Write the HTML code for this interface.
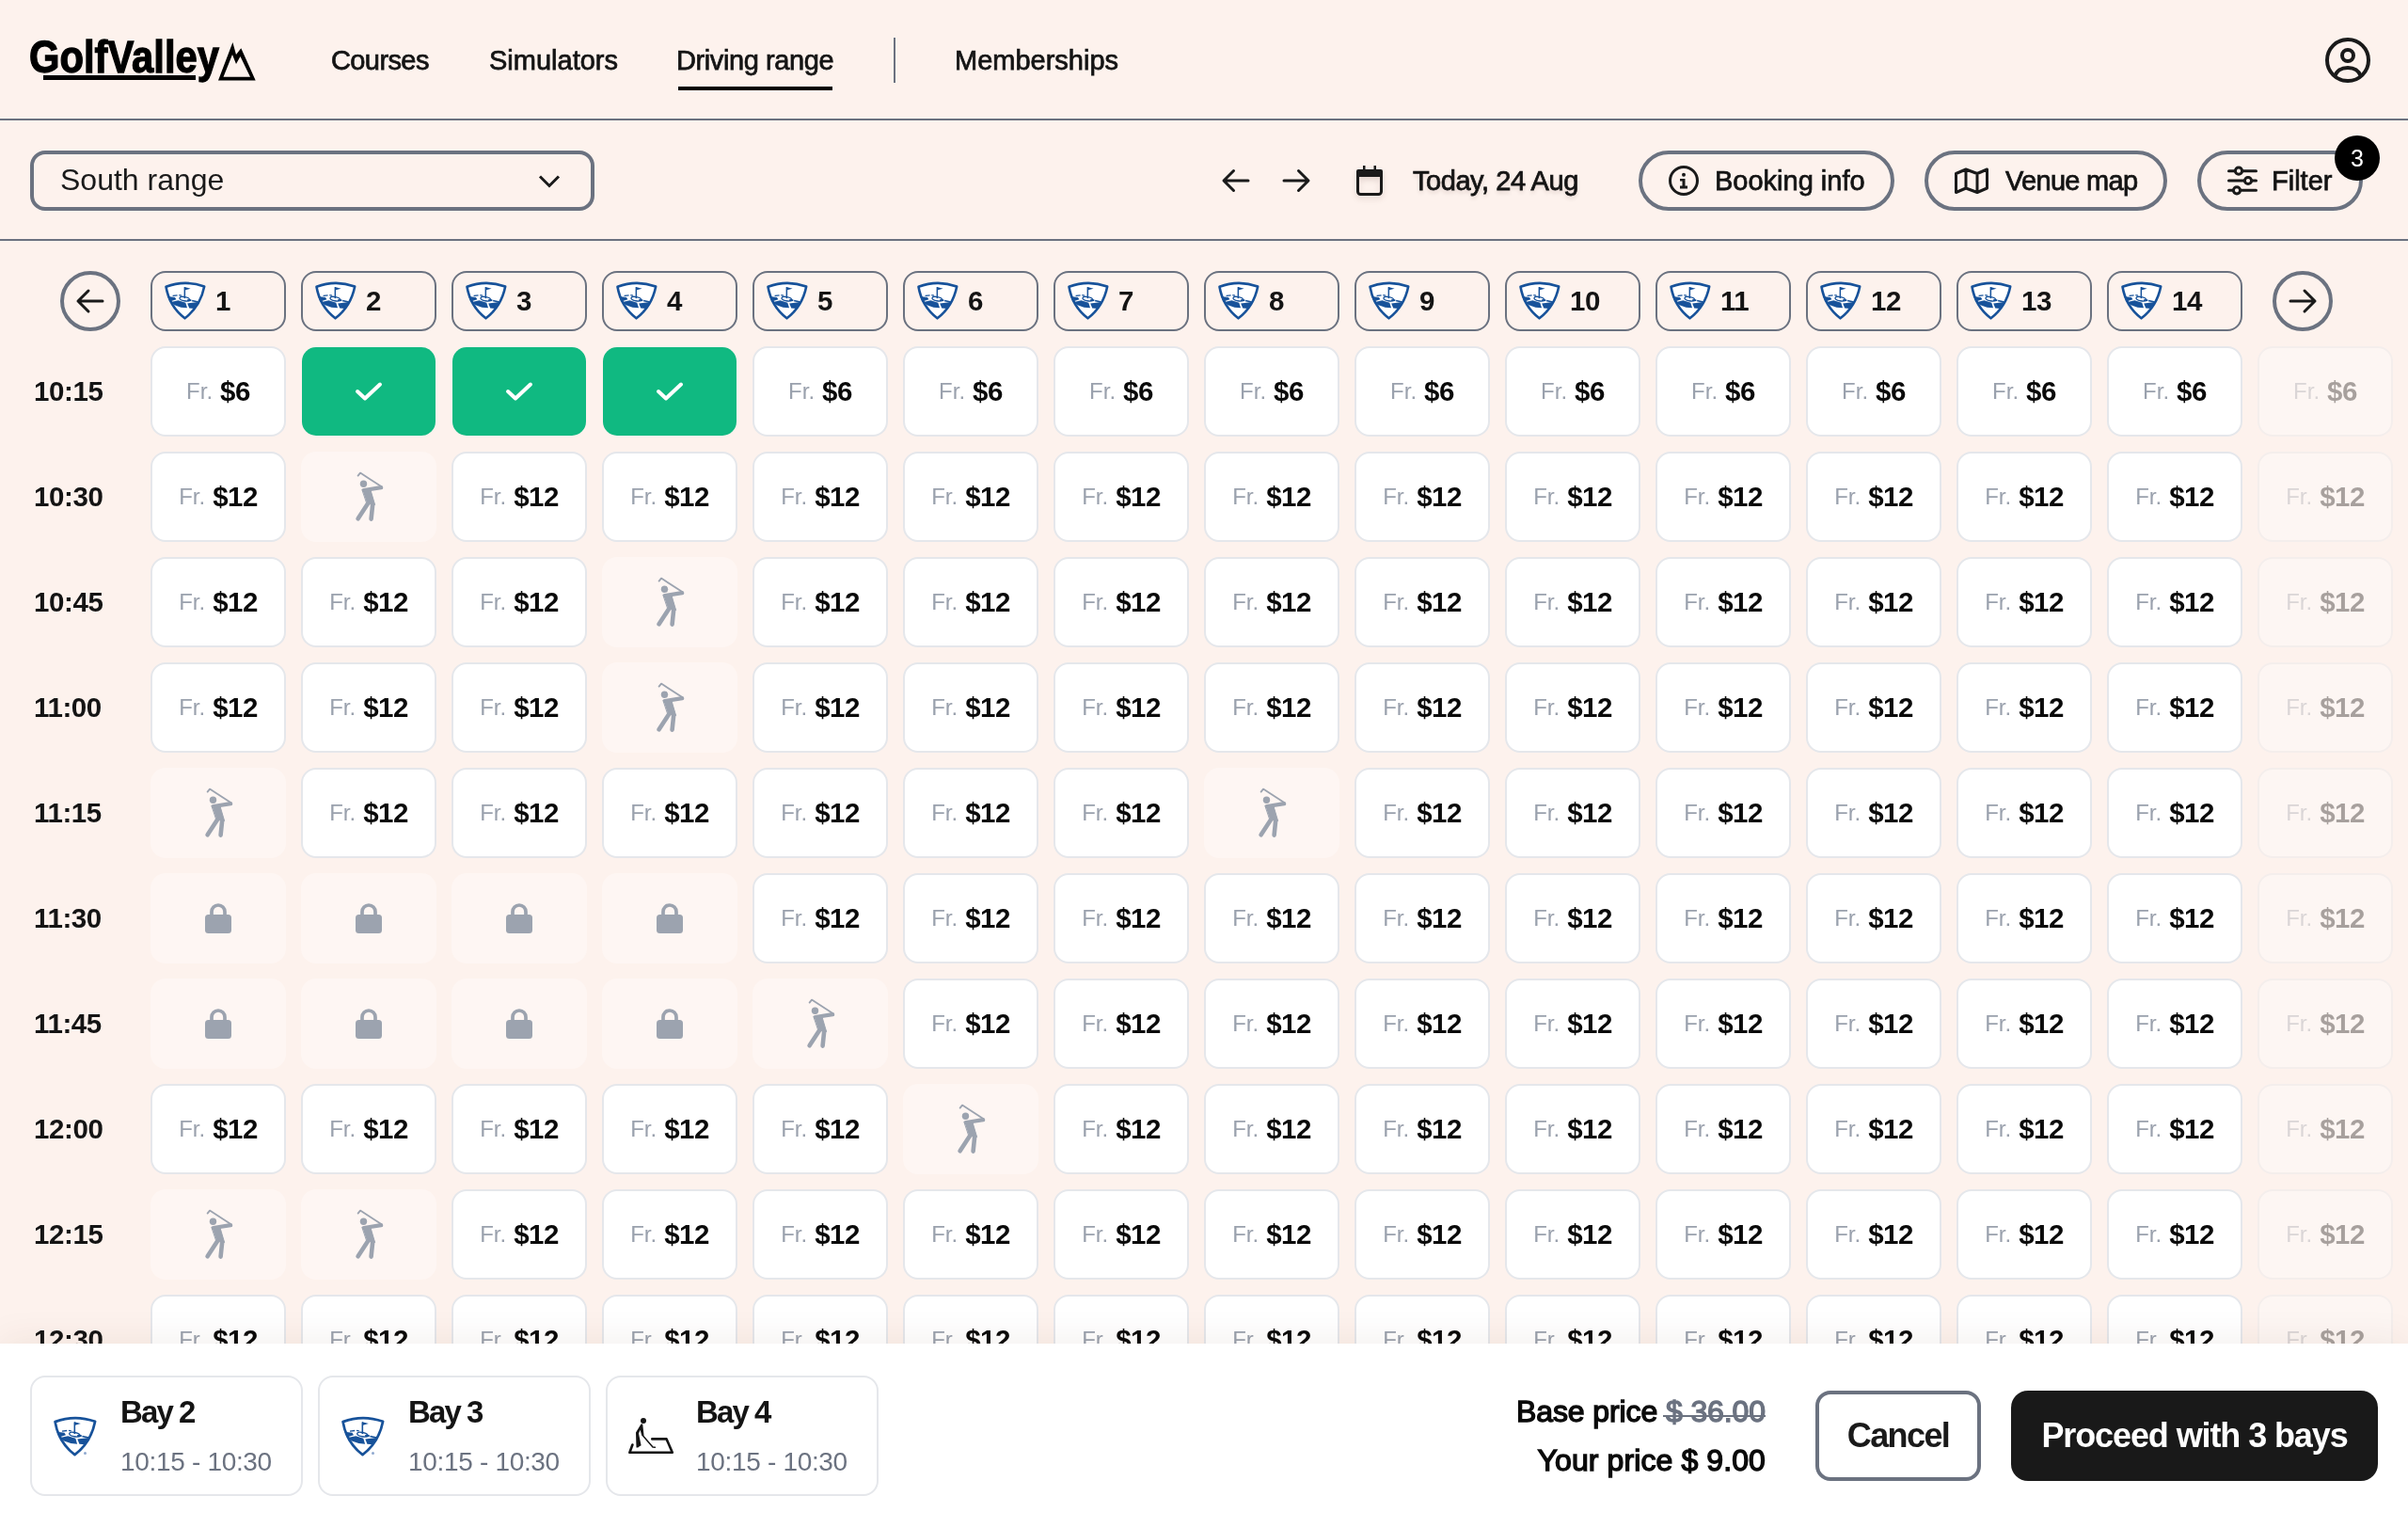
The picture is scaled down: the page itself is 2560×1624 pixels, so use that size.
<!DOCTYPE html>
<html><head><meta charset="utf-8"><title>GolfValley - Driving range</title>
<style>
*{box-sizing:border-box;margin:0;padding:0}
html{will-change:transform}
html,body{width:2560px;height:1624px;overflow:hidden;background:#fdf2ed;font-family:"Liberation Sans", sans-serif;color:#1a1a1a}
.abs{position:absolute}
.ic{position:absolute;overflow:visible}
.t{position:absolute;white-space:nowrap;line-height:1}
.nav{font-size:29px;font-weight:400;color:#141414;-webkit-text-stroke:0.75px #141414}
.hb{position:absolute;top:288px;width:144px;height:64px;border:2px solid #6b7280;border-radius:16px}
.hb .n{position:absolute;left:67px;top:0;height:60px;display:flex;align-items:center;font-size:29.5px;font-weight:700;color:#141414;letter-spacing:-0.5px}
.c{position:absolute;width:144px;height:96px;border-radius:16px;display:flex;align-items:center;justify-content:center;white-space:nowrap}
.c.p{background:#fff;border:2px solid #e5e7eb}
.c.s{background:#10b981}
.c.d{background:#fef6f3}
.c.f{opacity:.35}
.fr{font-size:24px;color:#9aa1ad;margin-right:8px}
.pr{font-size:29.5px;font-weight:700;color:#0a0a0a;letter-spacing:-0.5px}
.tm{position:absolute;left:36px;width:100px;height:96px;display:flex;align-items:center;font-size:29.5px;font-weight:700;color:#141414;letter-spacing:-0.4px}
.pill{position:absolute;top:160px;height:64px;border:4px solid #6b7280;border-radius:32px}
.circ{position:absolute;top:288px;width:64px;height:64px;border:4px solid #6b7280;border-radius:50%}
.card{position:absolute;top:1462px;width:290px;height:128px;border:2px solid #e5e7eb;border-radius:16px;background:#fff}
.card .b{position:absolute;left:94px;top:20px;letter-spacing:-1.9px;font-size:33px;font-weight:700;color:#141414;line-height:1}
.strike{position:relative}
.strike::after{content:"";position:absolute;left:-3px;right:0;top:22px;height:2px;background:#6b7280}
.card .r{position:absolute;left:94px;top:76px;letter-spacing:-0.32px;font-size:28px;color:#6b7280;line-height:1}
</style></head><body>

<svg class="ic" style="left:0;top:0;width:300px;height:110px" viewBox="0 0 300 110">
<text x="31" y="77" font-family="Liberation Sans, sans-serif" font-weight="700" font-size="48" textLength="202" lengthAdjust="spacingAndGlyphs" fill="#000" stroke="#000" stroke-width="1.3">GolfValley</text>
<rect x="46" y="80" width="162" height="5" fill="#000"/>
<path fill-rule="evenodd" fill="#000" d="M232 85.5 L247.4 45 L251 58 L256.3 51.3 L271.7 85.5 Z M237.5 81.8 L266 81.8 L255.5 60 L251 68 L247 58 Z"/>
</svg>
<div class="t nav" style="left:352px;top:50px;letter-spacing:-0.6px">Courses</div>
<div class="t nav" style="left:520px;top:50px">Simulators</div>
<div class="t nav" style="left:719px;top:50px;letter-spacing:-0.4px">Driving range</div>
<div class="abs" style="left:721px;top:92px;width:164px;height:4px;background:#000"></div>
<div class="abs" style="left:950px;top:40px;width:2px;height:48px;background:#6b7280"></div>
<div class="t nav" style="left:1015px;top:50px">Memberships</div>
<svg class="ic" style="left:2468px;top:36px;width:56px;height:56px" viewBox="2468 36 56 56">
<g fill="none" stroke="#1a1a1a" stroke-width="4">
<circle cx="2496" cy="64" r="22"/>
<circle cx="2496" cy="59" r="6"/>
<path d="M2482 81 C2484.5 75 2488 72 2496 72 C2504 72 2507.5 75 2510 81"/>
</g></svg>
<div class="abs" style="left:0;top:126px;width:2560px;height:2px;background:#6b7280"></div>
<div class="abs" style="left:32px;top:160px;width:600px;height:64px;border:4px solid #6b7280;border-radius:16px"></div>
<div class="t" style="left:64px;top:175px;font-size:32px;color:#1a1a1a">South range</div>
<svg class="ic" style="left:570px;top:182px;width:28px;height:20px" viewBox="570 182 28 20">
<path d="M574 187.5 L584 197.5 L594 187.5" fill="none" stroke="#1a1a1a" stroke-width="3"/></svg>
<svg class="ic" style="left:1296px;top:176px;width:100px;height:32px" viewBox="1296 176 100 32">
<g fill="none" stroke="#1a1a1a" stroke-width="3" stroke-linecap="round" stroke-linejoin="round">
<path d="M1327 192 L1301.5 192 M1311.5 181.5 L1301 192 L1311.5 202.5"/>
<path d="M1365 192 L1390.5 192 M1380.5 181.5 L1391 192 L1380.5 202.5"/>
</g></svg>
<svg class="ic" style="left:1440px;top:174px;width:32px;height:36px;filter:drop-shadow(0 3px 3px rgba(60,30,20,0.15))" viewBox="1440 174 32 36">
<rect x="1443.5" y="181.5" width="25" height="25" rx="3" fill="none" stroke="#1a1a1a" stroke-width="3"/>
<rect x="1442" y="180" width="28" height="8" rx="2" fill="#1a1a1a"/>
<rect x="1449" y="176" width="2.5" height="6" fill="#1a1a1a"/>
<rect x="1460.5" y="176" width="2.5" height="6" fill="#1a1a1a"/>
</svg>
<div class="t nav" style="left:1502px;top:178px;letter-spacing:-0.45px;text-shadow:0 3px 4px rgba(60,30,20,0.15)">Today, 24 Aug</div>
<div class="pill" style="left:1742px;width:272px"></div>
<svg class="ic" style="left:1772px;top:174px;width:36px;height:36px" viewBox="1772 174 36 36">
<circle cx="1790" cy="192" r="14.5" fill="none" stroke="#1a1a1a" stroke-width="3"/>
<circle cx="1790" cy="185.8" r="2" fill="#1a1a1a"/>
<path d="M1786 190 L1791.5 190 L1791.5 197.5 L1794 197.5 L1794 200.5 L1786 200.5 L1786 197.5 L1788.5 197.5 L1788.5 192.5 L1786 192.5 Z" fill="#1a1a1a"/>
</svg>
<div class="t nav" style="left:1823px;top:178px">Booking info</div>
<div class="pill" style="left:2046px;width:258px"></div>
<svg class="ic" style="left:2074px;top:174px;width:44px;height:36px" viewBox="2074 174 44 36">
<path d="M2079.5 184.5 L2090 180 L2102 184.5 L2112.5 180 L2112.5 200 L2102 204.5 L2090 200 L2079.5 204.5 Z M2090 180 L2090 200 M2102 184.5 L2102 204.5" fill="none" stroke="#1a1a1a" stroke-width="3" stroke-linejoin="round"/>
</svg>
<div class="t nav" style="left:2132px;top:178px;letter-spacing:-0.7px">Venue map</div>
<div class="pill" style="left:2336px;width:176px"></div>
<svg class="ic" style="left:2364px;top:172px;width:40px;height:40px" viewBox="2364 172 40 40">
<g fill="none" stroke="#1a1a1a" stroke-width="3" stroke-linecap="round">
<path d="M2369.5 181.7 L2376 181.7 M2384 181.7 L2398.5 181.7 M2369.5 192 L2386 192 M2394 192 L2398.5 192 M2369.5 202.3 L2374 202.3 M2382 202.3 L2398.5 202.3"/>
<circle cx="2380" cy="181.7" r="3.6"/><circle cx="2390" cy="192" r="3.6"/><circle cx="2378" cy="202.3" r="3.6"/>
</g></svg>
<div class="t nav" style="left:2415px;top:178px">Filter</div>
<div class="abs" style="left:2482px;top:144px;width:48px;height:48px;border-radius:50%;background:#000;color:#fff;font-size:25px;display:flex;align-items:center;justify-content:center;line-height:1">3</div>
<div class="abs" style="left:0;top:254px;width:2560px;height:2px;background:#6b7280"></div>
<div class="circ" style="left:64px"></div>
<svg class="ic" style="left:78px;top:304px;width:36px;height:32px" viewBox="78 304 36 32">
<path d="M109 320 L83 320 M94 309 L83 320 L94 331" fill="none" stroke="#1a1a1a" stroke-width="3" stroke-linecap="round" stroke-linejoin="round"/></svg>
<div class="circ" style="left:2416px"></div>
<svg class="ic" style="left:2430px;top:304px;width:36px;height:32px" viewBox="2430 304 36 32">
<path d="M2435 320 L2461 320 M2450 309 L2461 320 L2450 331" fill="none" stroke="#1a1a1a" stroke-width="3" stroke-linecap="round" stroke-linejoin="round"/></svg>
<div class="hb" style="left:160px"><div class="n">1</div></div>
<svg class="ic" style="left:175px;top:299px;width:44px;height:41px" viewBox="0 -0.7 44 41">
<path d="M1.5 5.1 Q21.5 -2.5 42.2 4.8 Q38 26 21.5 38.6 Q5 26 1.5 5.1 Z" fill="#fff" stroke="#17529a" stroke-width="2.6" stroke-linejoin="round"/>
<g fill="#17529a">
<rect x="20.6" y="5.4" width="1.5" height="12"/>
<path d="M21.1 5.3 L27.6 7 L21.1 8.9 Z"/>
<path d="M3.2 15.2 L11 16.3 L12.4 18.5 L8.6 19.9 L5.4 21 Z"/>
<path d="M6.8 21.3 L14.5 19.6 L22.3 22 L24 27.6 L17.5 27 L10.5 24.6 Z"/>
<path d="M24.2 22.7 L36 21.2 L31.8 28.2 L26.2 27.8 Z"/>
<path d="M29.4 19 L36 20.6 L35.2 22 L28.8 20.6 Z"/>
<ellipse cx="26.2" cy="19.4" rx="2.5" ry="1.2"/>
</g>
<g fill="none" stroke="#17529a" stroke-width="1.3">
<ellipse cx="21.3" cy="18" rx="5.4" ry="2.1" transform="rotate(12 21.3 18)"/>
<path d="M8.6 14.6 L13.6 14.1 M15.3 14 L18 14.4"/>
</g>
</svg>
<div class="hb" style="left:320px"><div class="n">2</div></div>
<svg class="ic" style="left:335px;top:299px;width:44px;height:41px" viewBox="0 -0.7 44 41">
<path d="M1.5 5.1 Q21.5 -2.5 42.2 4.8 Q38 26 21.5 38.6 Q5 26 1.5 5.1 Z" fill="#fff" stroke="#17529a" stroke-width="2.6" stroke-linejoin="round"/>
<g fill="#17529a">
<rect x="20.6" y="5.4" width="1.5" height="12"/>
<path d="M21.1 5.3 L27.6 7 L21.1 8.9 Z"/>
<path d="M3.2 15.2 L11 16.3 L12.4 18.5 L8.6 19.9 L5.4 21 Z"/>
<path d="M6.8 21.3 L14.5 19.6 L22.3 22 L24 27.6 L17.5 27 L10.5 24.6 Z"/>
<path d="M24.2 22.7 L36 21.2 L31.8 28.2 L26.2 27.8 Z"/>
<path d="M29.4 19 L36 20.6 L35.2 22 L28.8 20.6 Z"/>
<ellipse cx="26.2" cy="19.4" rx="2.5" ry="1.2"/>
</g>
<g fill="none" stroke="#17529a" stroke-width="1.3">
<ellipse cx="21.3" cy="18" rx="5.4" ry="2.1" transform="rotate(12 21.3 18)"/>
<path d="M8.6 14.6 L13.6 14.1 M15.3 14 L18 14.4"/>
</g>
</svg>
<div class="hb" style="left:480px"><div class="n">3</div></div>
<svg class="ic" style="left:495px;top:299px;width:44px;height:41px" viewBox="0 -0.7 44 41">
<path d="M1.5 5.1 Q21.5 -2.5 42.2 4.8 Q38 26 21.5 38.6 Q5 26 1.5 5.1 Z" fill="#fff" stroke="#17529a" stroke-width="2.6" stroke-linejoin="round"/>
<g fill="#17529a">
<rect x="20.6" y="5.4" width="1.5" height="12"/>
<path d="M21.1 5.3 L27.6 7 L21.1 8.9 Z"/>
<path d="M3.2 15.2 L11 16.3 L12.4 18.5 L8.6 19.9 L5.4 21 Z"/>
<path d="M6.8 21.3 L14.5 19.6 L22.3 22 L24 27.6 L17.5 27 L10.5 24.6 Z"/>
<path d="M24.2 22.7 L36 21.2 L31.8 28.2 L26.2 27.8 Z"/>
<path d="M29.4 19 L36 20.6 L35.2 22 L28.8 20.6 Z"/>
<ellipse cx="26.2" cy="19.4" rx="2.5" ry="1.2"/>
</g>
<g fill="none" stroke="#17529a" stroke-width="1.3">
<ellipse cx="21.3" cy="18" rx="5.4" ry="2.1" transform="rotate(12 21.3 18)"/>
<path d="M8.6 14.6 L13.6 14.1 M15.3 14 L18 14.4"/>
</g>
</svg>
<div class="hb" style="left:640px"><div class="n">4</div></div>
<svg class="ic" style="left:655px;top:299px;width:44px;height:41px" viewBox="0 -0.7 44 41">
<path d="M1.5 5.1 Q21.5 -2.5 42.2 4.8 Q38 26 21.5 38.6 Q5 26 1.5 5.1 Z" fill="#fff" stroke="#17529a" stroke-width="2.6" stroke-linejoin="round"/>
<g fill="#17529a">
<rect x="20.6" y="5.4" width="1.5" height="12"/>
<path d="M21.1 5.3 L27.6 7 L21.1 8.9 Z"/>
<path d="M3.2 15.2 L11 16.3 L12.4 18.5 L8.6 19.9 L5.4 21 Z"/>
<path d="M6.8 21.3 L14.5 19.6 L22.3 22 L24 27.6 L17.5 27 L10.5 24.6 Z"/>
<path d="M24.2 22.7 L36 21.2 L31.8 28.2 L26.2 27.8 Z"/>
<path d="M29.4 19 L36 20.6 L35.2 22 L28.8 20.6 Z"/>
<ellipse cx="26.2" cy="19.4" rx="2.5" ry="1.2"/>
</g>
<g fill="none" stroke="#17529a" stroke-width="1.3">
<ellipse cx="21.3" cy="18" rx="5.4" ry="2.1" transform="rotate(12 21.3 18)"/>
<path d="M8.6 14.6 L13.6 14.1 M15.3 14 L18 14.4"/>
</g>
</svg>
<div class="hb" style="left:800px"><div class="n">5</div></div>
<svg class="ic" style="left:815px;top:299px;width:44px;height:41px" viewBox="0 -0.7 44 41">
<path d="M1.5 5.1 Q21.5 -2.5 42.2 4.8 Q38 26 21.5 38.6 Q5 26 1.5 5.1 Z" fill="#fff" stroke="#17529a" stroke-width="2.6" stroke-linejoin="round"/>
<g fill="#17529a">
<rect x="20.6" y="5.4" width="1.5" height="12"/>
<path d="M21.1 5.3 L27.6 7 L21.1 8.9 Z"/>
<path d="M3.2 15.2 L11 16.3 L12.4 18.5 L8.6 19.9 L5.4 21 Z"/>
<path d="M6.8 21.3 L14.5 19.6 L22.3 22 L24 27.6 L17.5 27 L10.5 24.6 Z"/>
<path d="M24.2 22.7 L36 21.2 L31.8 28.2 L26.2 27.8 Z"/>
<path d="M29.4 19 L36 20.6 L35.2 22 L28.8 20.6 Z"/>
<ellipse cx="26.2" cy="19.4" rx="2.5" ry="1.2"/>
</g>
<g fill="none" stroke="#17529a" stroke-width="1.3">
<ellipse cx="21.3" cy="18" rx="5.4" ry="2.1" transform="rotate(12 21.3 18)"/>
<path d="M8.6 14.6 L13.6 14.1 M15.3 14 L18 14.4"/>
</g>
</svg>
<div class="hb" style="left:960px"><div class="n">6</div></div>
<svg class="ic" style="left:975px;top:299px;width:44px;height:41px" viewBox="0 -0.7 44 41">
<path d="M1.5 5.1 Q21.5 -2.5 42.2 4.8 Q38 26 21.5 38.6 Q5 26 1.5 5.1 Z" fill="#fff" stroke="#17529a" stroke-width="2.6" stroke-linejoin="round"/>
<g fill="#17529a">
<rect x="20.6" y="5.4" width="1.5" height="12"/>
<path d="M21.1 5.3 L27.6 7 L21.1 8.9 Z"/>
<path d="M3.2 15.2 L11 16.3 L12.4 18.5 L8.6 19.9 L5.4 21 Z"/>
<path d="M6.8 21.3 L14.5 19.6 L22.3 22 L24 27.6 L17.5 27 L10.5 24.6 Z"/>
<path d="M24.2 22.7 L36 21.2 L31.8 28.2 L26.2 27.8 Z"/>
<path d="M29.4 19 L36 20.6 L35.2 22 L28.8 20.6 Z"/>
<ellipse cx="26.2" cy="19.4" rx="2.5" ry="1.2"/>
</g>
<g fill="none" stroke="#17529a" stroke-width="1.3">
<ellipse cx="21.3" cy="18" rx="5.4" ry="2.1" transform="rotate(12 21.3 18)"/>
<path d="M8.6 14.6 L13.6 14.1 M15.3 14 L18 14.4"/>
</g>
</svg>
<div class="hb" style="left:1120px"><div class="n">7</div></div>
<svg class="ic" style="left:1135px;top:299px;width:44px;height:41px" viewBox="0 -0.7 44 41">
<path d="M1.5 5.1 Q21.5 -2.5 42.2 4.8 Q38 26 21.5 38.6 Q5 26 1.5 5.1 Z" fill="#fff" stroke="#17529a" stroke-width="2.6" stroke-linejoin="round"/>
<g fill="#17529a">
<rect x="20.6" y="5.4" width="1.5" height="12"/>
<path d="M21.1 5.3 L27.6 7 L21.1 8.9 Z"/>
<path d="M3.2 15.2 L11 16.3 L12.4 18.5 L8.6 19.9 L5.4 21 Z"/>
<path d="M6.8 21.3 L14.5 19.6 L22.3 22 L24 27.6 L17.5 27 L10.5 24.6 Z"/>
<path d="M24.2 22.7 L36 21.2 L31.8 28.2 L26.2 27.8 Z"/>
<path d="M29.4 19 L36 20.6 L35.2 22 L28.8 20.6 Z"/>
<ellipse cx="26.2" cy="19.4" rx="2.5" ry="1.2"/>
</g>
<g fill="none" stroke="#17529a" stroke-width="1.3">
<ellipse cx="21.3" cy="18" rx="5.4" ry="2.1" transform="rotate(12 21.3 18)"/>
<path d="M8.6 14.6 L13.6 14.1 M15.3 14 L18 14.4"/>
</g>
</svg>
<div class="hb" style="left:1280px"><div class="n">8</div></div>
<svg class="ic" style="left:1295px;top:299px;width:44px;height:41px" viewBox="0 -0.7 44 41">
<path d="M1.5 5.1 Q21.5 -2.5 42.2 4.8 Q38 26 21.5 38.6 Q5 26 1.5 5.1 Z" fill="#fff" stroke="#17529a" stroke-width="2.6" stroke-linejoin="round"/>
<g fill="#17529a">
<rect x="20.6" y="5.4" width="1.5" height="12"/>
<path d="M21.1 5.3 L27.6 7 L21.1 8.9 Z"/>
<path d="M3.2 15.2 L11 16.3 L12.4 18.5 L8.6 19.9 L5.4 21 Z"/>
<path d="M6.8 21.3 L14.5 19.6 L22.3 22 L24 27.6 L17.5 27 L10.5 24.6 Z"/>
<path d="M24.2 22.7 L36 21.2 L31.8 28.2 L26.2 27.8 Z"/>
<path d="M29.4 19 L36 20.6 L35.2 22 L28.8 20.6 Z"/>
<ellipse cx="26.2" cy="19.4" rx="2.5" ry="1.2"/>
</g>
<g fill="none" stroke="#17529a" stroke-width="1.3">
<ellipse cx="21.3" cy="18" rx="5.4" ry="2.1" transform="rotate(12 21.3 18)"/>
<path d="M8.6 14.6 L13.6 14.1 M15.3 14 L18 14.4"/>
</g>
</svg>
<div class="hb" style="left:1440px"><div class="n">9</div></div>
<svg class="ic" style="left:1455px;top:299px;width:44px;height:41px" viewBox="0 -0.7 44 41">
<path d="M1.5 5.1 Q21.5 -2.5 42.2 4.8 Q38 26 21.5 38.6 Q5 26 1.5 5.1 Z" fill="#fff" stroke="#17529a" stroke-width="2.6" stroke-linejoin="round"/>
<g fill="#17529a">
<rect x="20.6" y="5.4" width="1.5" height="12"/>
<path d="M21.1 5.3 L27.6 7 L21.1 8.9 Z"/>
<path d="M3.2 15.2 L11 16.3 L12.4 18.5 L8.6 19.9 L5.4 21 Z"/>
<path d="M6.8 21.3 L14.5 19.6 L22.3 22 L24 27.6 L17.5 27 L10.5 24.6 Z"/>
<path d="M24.2 22.7 L36 21.2 L31.8 28.2 L26.2 27.8 Z"/>
<path d="M29.4 19 L36 20.6 L35.2 22 L28.8 20.6 Z"/>
<ellipse cx="26.2" cy="19.4" rx="2.5" ry="1.2"/>
</g>
<g fill="none" stroke="#17529a" stroke-width="1.3">
<ellipse cx="21.3" cy="18" rx="5.4" ry="2.1" transform="rotate(12 21.3 18)"/>
<path d="M8.6 14.6 L13.6 14.1 M15.3 14 L18 14.4"/>
</g>
</svg>
<div class="hb" style="left:1600px"><div class="n">10</div></div>
<svg class="ic" style="left:1615px;top:299px;width:44px;height:41px" viewBox="0 -0.7 44 41">
<path d="M1.5 5.1 Q21.5 -2.5 42.2 4.8 Q38 26 21.5 38.6 Q5 26 1.5 5.1 Z" fill="#fff" stroke="#17529a" stroke-width="2.6" stroke-linejoin="round"/>
<g fill="#17529a">
<rect x="20.6" y="5.4" width="1.5" height="12"/>
<path d="M21.1 5.3 L27.6 7 L21.1 8.9 Z"/>
<path d="M3.2 15.2 L11 16.3 L12.4 18.5 L8.6 19.9 L5.4 21 Z"/>
<path d="M6.8 21.3 L14.5 19.6 L22.3 22 L24 27.6 L17.5 27 L10.5 24.6 Z"/>
<path d="M24.2 22.7 L36 21.2 L31.8 28.2 L26.2 27.8 Z"/>
<path d="M29.4 19 L36 20.6 L35.2 22 L28.8 20.6 Z"/>
<ellipse cx="26.2" cy="19.4" rx="2.5" ry="1.2"/>
</g>
<g fill="none" stroke="#17529a" stroke-width="1.3">
<ellipse cx="21.3" cy="18" rx="5.4" ry="2.1" transform="rotate(12 21.3 18)"/>
<path d="M8.6 14.6 L13.6 14.1 M15.3 14 L18 14.4"/>
</g>
</svg>
<div class="hb" style="left:1760px"><div class="n">11</div></div>
<svg class="ic" style="left:1775px;top:299px;width:44px;height:41px" viewBox="0 -0.7 44 41">
<path d="M1.5 5.1 Q21.5 -2.5 42.2 4.8 Q38 26 21.5 38.6 Q5 26 1.5 5.1 Z" fill="#fff" stroke="#17529a" stroke-width="2.6" stroke-linejoin="round"/>
<g fill="#17529a">
<rect x="20.6" y="5.4" width="1.5" height="12"/>
<path d="M21.1 5.3 L27.6 7 L21.1 8.9 Z"/>
<path d="M3.2 15.2 L11 16.3 L12.4 18.5 L8.6 19.9 L5.4 21 Z"/>
<path d="M6.8 21.3 L14.5 19.6 L22.3 22 L24 27.6 L17.5 27 L10.5 24.6 Z"/>
<path d="M24.2 22.7 L36 21.2 L31.8 28.2 L26.2 27.8 Z"/>
<path d="M29.4 19 L36 20.6 L35.2 22 L28.8 20.6 Z"/>
<ellipse cx="26.2" cy="19.4" rx="2.5" ry="1.2"/>
</g>
<g fill="none" stroke="#17529a" stroke-width="1.3">
<ellipse cx="21.3" cy="18" rx="5.4" ry="2.1" transform="rotate(12 21.3 18)"/>
<path d="M8.6 14.6 L13.6 14.1 M15.3 14 L18 14.4"/>
</g>
</svg>
<div class="hb" style="left:1920px"><div class="n">12</div></div>
<svg class="ic" style="left:1935px;top:299px;width:44px;height:41px" viewBox="0 -0.7 44 41">
<path d="M1.5 5.1 Q21.5 -2.5 42.2 4.8 Q38 26 21.5 38.6 Q5 26 1.5 5.1 Z" fill="#fff" stroke="#17529a" stroke-width="2.6" stroke-linejoin="round"/>
<g fill="#17529a">
<rect x="20.6" y="5.4" width="1.5" height="12"/>
<path d="M21.1 5.3 L27.6 7 L21.1 8.9 Z"/>
<path d="M3.2 15.2 L11 16.3 L12.4 18.5 L8.6 19.9 L5.4 21 Z"/>
<path d="M6.8 21.3 L14.5 19.6 L22.3 22 L24 27.6 L17.5 27 L10.5 24.6 Z"/>
<path d="M24.2 22.7 L36 21.2 L31.8 28.2 L26.2 27.8 Z"/>
<path d="M29.4 19 L36 20.6 L35.2 22 L28.8 20.6 Z"/>
<ellipse cx="26.2" cy="19.4" rx="2.5" ry="1.2"/>
</g>
<g fill="none" stroke="#17529a" stroke-width="1.3">
<ellipse cx="21.3" cy="18" rx="5.4" ry="2.1" transform="rotate(12 21.3 18)"/>
<path d="M8.6 14.6 L13.6 14.1 M15.3 14 L18 14.4"/>
</g>
</svg>
<div class="hb" style="left:2080px"><div class="n">13</div></div>
<svg class="ic" style="left:2095px;top:299px;width:44px;height:41px" viewBox="0 -0.7 44 41">
<path d="M1.5 5.1 Q21.5 -2.5 42.2 4.8 Q38 26 21.5 38.6 Q5 26 1.5 5.1 Z" fill="#fff" stroke="#17529a" stroke-width="2.6" stroke-linejoin="round"/>
<g fill="#17529a">
<rect x="20.6" y="5.4" width="1.5" height="12"/>
<path d="M21.1 5.3 L27.6 7 L21.1 8.9 Z"/>
<path d="M3.2 15.2 L11 16.3 L12.4 18.5 L8.6 19.9 L5.4 21 Z"/>
<path d="M6.8 21.3 L14.5 19.6 L22.3 22 L24 27.6 L17.5 27 L10.5 24.6 Z"/>
<path d="M24.2 22.7 L36 21.2 L31.8 28.2 L26.2 27.8 Z"/>
<path d="M29.4 19 L36 20.6 L35.2 22 L28.8 20.6 Z"/>
<ellipse cx="26.2" cy="19.4" rx="2.5" ry="1.2"/>
</g>
<g fill="none" stroke="#17529a" stroke-width="1.3">
<ellipse cx="21.3" cy="18" rx="5.4" ry="2.1" transform="rotate(12 21.3 18)"/>
<path d="M8.6 14.6 L13.6 14.1 M15.3 14 L18 14.4"/>
</g>
</svg>
<div class="hb" style="left:2240px"><div class="n">14</div></div>
<svg class="ic" style="left:2255px;top:299px;width:44px;height:41px" viewBox="0 -0.7 44 41">
<path d="M1.5 5.1 Q21.5 -2.5 42.2 4.8 Q38 26 21.5 38.6 Q5 26 1.5 5.1 Z" fill="#fff" stroke="#17529a" stroke-width="2.6" stroke-linejoin="round"/>
<g fill="#17529a">
<rect x="20.6" y="5.4" width="1.5" height="12"/>
<path d="M21.1 5.3 L27.6 7 L21.1 8.9 Z"/>
<path d="M3.2 15.2 L11 16.3 L12.4 18.5 L8.6 19.9 L5.4 21 Z"/>
<path d="M6.8 21.3 L14.5 19.6 L22.3 22 L24 27.6 L17.5 27 L10.5 24.6 Z"/>
<path d="M24.2 22.7 L36 21.2 L31.8 28.2 L26.2 27.8 Z"/>
<path d="M29.4 19 L36 20.6 L35.2 22 L28.8 20.6 Z"/>
<ellipse cx="26.2" cy="19.4" rx="2.5" ry="1.2"/>
</g>
<g fill="none" stroke="#17529a" stroke-width="1.3">
<ellipse cx="21.3" cy="18" rx="5.4" ry="2.1" transform="rotate(12 21.3 18)"/>
<path d="M8.6 14.6 L13.6 14.1 M15.3 14 L18 14.4"/>
</g>
</svg>
<div class="tm" style="top:368px">10:15</div>
<div class="c p" style="left:160px;top:368px"><span class="fr">Fr.</span><span class="pr">$6</span></div>
<div class="c s" style="left:321px;top:369px;width:142px;height:94px;border-radius:15px"></div><svg class="ic" style="left:378px;top:406px;width:28px;height:22px" viewBox="0 0 28 22">
<path d="M2 10 L10 17.5 L26 2.5" fill="none" stroke="#fff" stroke-width="4" stroke-linecap="round" stroke-linejoin="round"/>
</svg>
<div class="c s" style="left:481px;top:369px;width:142px;height:94px;border-radius:15px"></div><svg class="ic" style="left:538px;top:406px;width:28px;height:22px" viewBox="0 0 28 22">
<path d="M2 10 L10 17.5 L26 2.5" fill="none" stroke="#fff" stroke-width="4" stroke-linecap="round" stroke-linejoin="round"/>
</svg>
<div class="c s" style="left:641px;top:369px;width:142px;height:94px;border-radius:15px"></div><svg class="ic" style="left:698px;top:406px;width:28px;height:22px" viewBox="0 0 28 22">
<path d="M2 10 L10 17.5 L26 2.5" fill="none" stroke="#fff" stroke-width="4" stroke-linecap="round" stroke-linejoin="round"/>
</svg>
<div class="c p" style="left:800px;top:368px"><span class="fr">Fr.</span><span class="pr">$6</span></div>
<div class="c p" style="left:960px;top:368px"><span class="fr">Fr.</span><span class="pr">$6</span></div>
<div class="c p" style="left:1120px;top:368px"><span class="fr">Fr.</span><span class="pr">$6</span></div>
<div class="c p" style="left:1280px;top:368px"><span class="fr">Fr.</span><span class="pr">$6</span></div>
<div class="c p" style="left:1440px;top:368px"><span class="fr">Fr.</span><span class="pr">$6</span></div>
<div class="c p" style="left:1600px;top:368px"><span class="fr">Fr.</span><span class="pr">$6</span></div>
<div class="c p" style="left:1760px;top:368px"><span class="fr">Fr.</span><span class="pr">$6</span></div>
<div class="c p" style="left:1920px;top:368px"><span class="fr">Fr.</span><span class="pr">$6</span></div>
<div class="c p" style="left:2080px;top:368px"><span class="fr">Fr.</span><span class="pr">$6</span></div>
<div class="c p" style="left:2240px;top:368px"><span class="fr">Fr.</span><span class="pr">$6</span></div>
<div class="c p f" style="left:2400px;top:368px"><span class="fr">Fr.</span><span class="pr">$6</span></div>
<div class="tm" style="top:480px">10:30</div>
<div class="c p" style="left:160px;top:480px"><span class="fr">Fr.</span><span class="pr">$12</span></div>
<div class="c d" style="left:320px;top:480px"></div><svg class="ic" style="left:376px;top:500px;width:32px;height:56px" viewBox="376 500 32 56">
<g fill="#9ca3af" stroke="#9ca3af" stroke-linecap="round" stroke-linejoin="round">
<circle cx="386.5" cy="514.2" r="3.7" stroke="none"/>
<path d="M380.6 505.6 L383 502.6 L405.3 517.1" fill="none" stroke-width="1.8"/>
<path d="M387 521 L405.2 518.2" fill="none" stroke-width="4.2"/>
<path d="M385.2 520.2 L393.6 519.6 L398.6 536.5 L390.2 535.2 Z" stroke-width="1"/>
<path d="M391.2 535 L380.6 551.3" fill="none" stroke-width="4.6"/>
<path d="M396.2 536 L394.6 551.6" fill="none" stroke-width="4.6"/>
</g></svg>
<div class="c p" style="left:480px;top:480px"><span class="fr">Fr.</span><span class="pr">$12</span></div>
<div class="c p" style="left:640px;top:480px"><span class="fr">Fr.</span><span class="pr">$12</span></div>
<div class="c p" style="left:800px;top:480px"><span class="fr">Fr.</span><span class="pr">$12</span></div>
<div class="c p" style="left:960px;top:480px"><span class="fr">Fr.</span><span class="pr">$12</span></div>
<div class="c p" style="left:1120px;top:480px"><span class="fr">Fr.</span><span class="pr">$12</span></div>
<div class="c p" style="left:1280px;top:480px"><span class="fr">Fr.</span><span class="pr">$12</span></div>
<div class="c p" style="left:1440px;top:480px"><span class="fr">Fr.</span><span class="pr">$12</span></div>
<div class="c p" style="left:1600px;top:480px"><span class="fr">Fr.</span><span class="pr">$12</span></div>
<div class="c p" style="left:1760px;top:480px"><span class="fr">Fr.</span><span class="pr">$12</span></div>
<div class="c p" style="left:1920px;top:480px"><span class="fr">Fr.</span><span class="pr">$12</span></div>
<div class="c p" style="left:2080px;top:480px"><span class="fr">Fr.</span><span class="pr">$12</span></div>
<div class="c p" style="left:2240px;top:480px"><span class="fr">Fr.</span><span class="pr">$12</span></div>
<div class="c p f" style="left:2400px;top:480px"><span class="fr">Fr.</span><span class="pr">$12</span></div>
<div class="tm" style="top:592px">10:45</div>
<div class="c p" style="left:160px;top:592px"><span class="fr">Fr.</span><span class="pr">$12</span></div>
<div class="c p" style="left:320px;top:592px"><span class="fr">Fr.</span><span class="pr">$12</span></div>
<div class="c p" style="left:480px;top:592px"><span class="fr">Fr.</span><span class="pr">$12</span></div>
<div class="c d" style="left:640px;top:592px"></div><svg class="ic" style="left:696px;top:612px;width:32px;height:56px" viewBox="376 500 32 56">
<g fill="#9ca3af" stroke="#9ca3af" stroke-linecap="round" stroke-linejoin="round">
<circle cx="386.5" cy="514.2" r="3.7" stroke="none"/>
<path d="M380.6 505.6 L383 502.6 L405.3 517.1" fill="none" stroke-width="1.8"/>
<path d="M387 521 L405.2 518.2" fill="none" stroke-width="4.2"/>
<path d="M385.2 520.2 L393.6 519.6 L398.6 536.5 L390.2 535.2 Z" stroke-width="1"/>
<path d="M391.2 535 L380.6 551.3" fill="none" stroke-width="4.6"/>
<path d="M396.2 536 L394.6 551.6" fill="none" stroke-width="4.6"/>
</g></svg>
<div class="c p" style="left:800px;top:592px"><span class="fr">Fr.</span><span class="pr">$12</span></div>
<div class="c p" style="left:960px;top:592px"><span class="fr">Fr.</span><span class="pr">$12</span></div>
<div class="c p" style="left:1120px;top:592px"><span class="fr">Fr.</span><span class="pr">$12</span></div>
<div class="c p" style="left:1280px;top:592px"><span class="fr">Fr.</span><span class="pr">$12</span></div>
<div class="c p" style="left:1440px;top:592px"><span class="fr">Fr.</span><span class="pr">$12</span></div>
<div class="c p" style="left:1600px;top:592px"><span class="fr">Fr.</span><span class="pr">$12</span></div>
<div class="c p" style="left:1760px;top:592px"><span class="fr">Fr.</span><span class="pr">$12</span></div>
<div class="c p" style="left:1920px;top:592px"><span class="fr">Fr.</span><span class="pr">$12</span></div>
<div class="c p" style="left:2080px;top:592px"><span class="fr">Fr.</span><span class="pr">$12</span></div>
<div class="c p" style="left:2240px;top:592px"><span class="fr">Fr.</span><span class="pr">$12</span></div>
<div class="c p f" style="left:2400px;top:592px"><span class="fr">Fr.</span><span class="pr">$12</span></div>
<div class="tm" style="top:704px">11:00</div>
<div class="c p" style="left:160px;top:704px"><span class="fr">Fr.</span><span class="pr">$12</span></div>
<div class="c p" style="left:320px;top:704px"><span class="fr">Fr.</span><span class="pr">$12</span></div>
<div class="c p" style="left:480px;top:704px"><span class="fr">Fr.</span><span class="pr">$12</span></div>
<div class="c d" style="left:640px;top:704px"></div><svg class="ic" style="left:696px;top:724px;width:32px;height:56px" viewBox="376 500 32 56">
<g fill="#9ca3af" stroke="#9ca3af" stroke-linecap="round" stroke-linejoin="round">
<circle cx="386.5" cy="514.2" r="3.7" stroke="none"/>
<path d="M380.6 505.6 L383 502.6 L405.3 517.1" fill="none" stroke-width="1.8"/>
<path d="M387 521 L405.2 518.2" fill="none" stroke-width="4.2"/>
<path d="M385.2 520.2 L393.6 519.6 L398.6 536.5 L390.2 535.2 Z" stroke-width="1"/>
<path d="M391.2 535 L380.6 551.3" fill="none" stroke-width="4.6"/>
<path d="M396.2 536 L394.6 551.6" fill="none" stroke-width="4.6"/>
</g></svg>
<div class="c p" style="left:800px;top:704px"><span class="fr">Fr.</span><span class="pr">$12</span></div>
<div class="c p" style="left:960px;top:704px"><span class="fr">Fr.</span><span class="pr">$12</span></div>
<div class="c p" style="left:1120px;top:704px"><span class="fr">Fr.</span><span class="pr">$12</span></div>
<div class="c p" style="left:1280px;top:704px"><span class="fr">Fr.</span><span class="pr">$12</span></div>
<div class="c p" style="left:1440px;top:704px"><span class="fr">Fr.</span><span class="pr">$12</span></div>
<div class="c p" style="left:1600px;top:704px"><span class="fr">Fr.</span><span class="pr">$12</span></div>
<div class="c p" style="left:1760px;top:704px"><span class="fr">Fr.</span><span class="pr">$12</span></div>
<div class="c p" style="left:1920px;top:704px"><span class="fr">Fr.</span><span class="pr">$12</span></div>
<div class="c p" style="left:2080px;top:704px"><span class="fr">Fr.</span><span class="pr">$12</span></div>
<div class="c p" style="left:2240px;top:704px"><span class="fr">Fr.</span><span class="pr">$12</span></div>
<div class="c p f" style="left:2400px;top:704px"><span class="fr">Fr.</span><span class="pr">$12</span></div>
<div class="tm" style="top:816px">11:15</div>
<div class="c d" style="left:160px;top:816px"></div><svg class="ic" style="left:216px;top:836px;width:32px;height:56px" viewBox="376 500 32 56">
<g fill="#9ca3af" stroke="#9ca3af" stroke-linecap="round" stroke-linejoin="round">
<circle cx="386.5" cy="514.2" r="3.7" stroke="none"/>
<path d="M380.6 505.6 L383 502.6 L405.3 517.1" fill="none" stroke-width="1.8"/>
<path d="M387 521 L405.2 518.2" fill="none" stroke-width="4.2"/>
<path d="M385.2 520.2 L393.6 519.6 L398.6 536.5 L390.2 535.2 Z" stroke-width="1"/>
<path d="M391.2 535 L380.6 551.3" fill="none" stroke-width="4.6"/>
<path d="M396.2 536 L394.6 551.6" fill="none" stroke-width="4.6"/>
</g></svg>
<div class="c p" style="left:320px;top:816px"><span class="fr">Fr.</span><span class="pr">$12</span></div>
<div class="c p" style="left:480px;top:816px"><span class="fr">Fr.</span><span class="pr">$12</span></div>
<div class="c p" style="left:640px;top:816px"><span class="fr">Fr.</span><span class="pr">$12</span></div>
<div class="c p" style="left:800px;top:816px"><span class="fr">Fr.</span><span class="pr">$12</span></div>
<div class="c p" style="left:960px;top:816px"><span class="fr">Fr.</span><span class="pr">$12</span></div>
<div class="c p" style="left:1120px;top:816px"><span class="fr">Fr.</span><span class="pr">$12</span></div>
<div class="c d" style="left:1280px;top:816px"></div><svg class="ic" style="left:1336px;top:836px;width:32px;height:56px" viewBox="376 500 32 56">
<g fill="#9ca3af" stroke="#9ca3af" stroke-linecap="round" stroke-linejoin="round">
<circle cx="386.5" cy="514.2" r="3.7" stroke="none"/>
<path d="M380.6 505.6 L383 502.6 L405.3 517.1" fill="none" stroke-width="1.8"/>
<path d="M387 521 L405.2 518.2" fill="none" stroke-width="4.2"/>
<path d="M385.2 520.2 L393.6 519.6 L398.6 536.5 L390.2 535.2 Z" stroke-width="1"/>
<path d="M391.2 535 L380.6 551.3" fill="none" stroke-width="4.6"/>
<path d="M396.2 536 L394.6 551.6" fill="none" stroke-width="4.6"/>
</g></svg>
<div class="c p" style="left:1440px;top:816px"><span class="fr">Fr.</span><span class="pr">$12</span></div>
<div class="c p" style="left:1600px;top:816px"><span class="fr">Fr.</span><span class="pr">$12</span></div>
<div class="c p" style="left:1760px;top:816px"><span class="fr">Fr.</span><span class="pr">$12</span></div>
<div class="c p" style="left:1920px;top:816px"><span class="fr">Fr.</span><span class="pr">$12</span></div>
<div class="c p" style="left:2080px;top:816px"><span class="fr">Fr.</span><span class="pr">$12</span></div>
<div class="c p" style="left:2240px;top:816px"><span class="fr">Fr.</span><span class="pr">$12</span></div>
<div class="c p f" style="left:2400px;top:816px"><span class="fr">Fr.</span><span class="pr">$12</span></div>
<div class="tm" style="top:928px">11:30</div>
<div class="c d" style="left:160px;top:928px"></div><svg class="ic" style="left:216px;top:958px;width:32px;height:36px" viewBox="216 958 32 36">
<path d="M225 972 L225 969 A7 7 0 0 1 239 969 L239 972" fill="none" stroke="#9ca3af" stroke-width="3.7"/>
<rect x="218" y="972" width="28" height="20" rx="3.5" fill="#9ca3af"/>
</svg>
<div class="c d" style="left:320px;top:928px"></div><svg class="ic" style="left:376px;top:958px;width:32px;height:36px" viewBox="216 958 32 36">
<path d="M225 972 L225 969 A7 7 0 0 1 239 969 L239 972" fill="none" stroke="#9ca3af" stroke-width="3.7"/>
<rect x="218" y="972" width="28" height="20" rx="3.5" fill="#9ca3af"/>
</svg>
<div class="c d" style="left:480px;top:928px"></div><svg class="ic" style="left:536px;top:958px;width:32px;height:36px" viewBox="216 958 32 36">
<path d="M225 972 L225 969 A7 7 0 0 1 239 969 L239 972" fill="none" stroke="#9ca3af" stroke-width="3.7"/>
<rect x="218" y="972" width="28" height="20" rx="3.5" fill="#9ca3af"/>
</svg>
<div class="c d" style="left:640px;top:928px"></div><svg class="ic" style="left:696px;top:958px;width:32px;height:36px" viewBox="216 958 32 36">
<path d="M225 972 L225 969 A7 7 0 0 1 239 969 L239 972" fill="none" stroke="#9ca3af" stroke-width="3.7"/>
<rect x="218" y="972" width="28" height="20" rx="3.5" fill="#9ca3af"/>
</svg>
<div class="c p" style="left:800px;top:928px"><span class="fr">Fr.</span><span class="pr">$12</span></div>
<div class="c p" style="left:960px;top:928px"><span class="fr">Fr.</span><span class="pr">$12</span></div>
<div class="c p" style="left:1120px;top:928px"><span class="fr">Fr.</span><span class="pr">$12</span></div>
<div class="c p" style="left:1280px;top:928px"><span class="fr">Fr.</span><span class="pr">$12</span></div>
<div class="c p" style="left:1440px;top:928px"><span class="fr">Fr.</span><span class="pr">$12</span></div>
<div class="c p" style="left:1600px;top:928px"><span class="fr">Fr.</span><span class="pr">$12</span></div>
<div class="c p" style="left:1760px;top:928px"><span class="fr">Fr.</span><span class="pr">$12</span></div>
<div class="c p" style="left:1920px;top:928px"><span class="fr">Fr.</span><span class="pr">$12</span></div>
<div class="c p" style="left:2080px;top:928px"><span class="fr">Fr.</span><span class="pr">$12</span></div>
<div class="c p" style="left:2240px;top:928px"><span class="fr">Fr.</span><span class="pr">$12</span></div>
<div class="c p f" style="left:2400px;top:928px"><span class="fr">Fr.</span><span class="pr">$12</span></div>
<div class="tm" style="top:1040px">11:45</div>
<div class="c d" style="left:160px;top:1040px"></div><svg class="ic" style="left:216px;top:1070px;width:32px;height:36px" viewBox="216 958 32 36">
<path d="M225 972 L225 969 A7 7 0 0 1 239 969 L239 972" fill="none" stroke="#9ca3af" stroke-width="3.7"/>
<rect x="218" y="972" width="28" height="20" rx="3.5" fill="#9ca3af"/>
</svg>
<div class="c d" style="left:320px;top:1040px"></div><svg class="ic" style="left:376px;top:1070px;width:32px;height:36px" viewBox="216 958 32 36">
<path d="M225 972 L225 969 A7 7 0 0 1 239 969 L239 972" fill="none" stroke="#9ca3af" stroke-width="3.7"/>
<rect x="218" y="972" width="28" height="20" rx="3.5" fill="#9ca3af"/>
</svg>
<div class="c d" style="left:480px;top:1040px"></div><svg class="ic" style="left:536px;top:1070px;width:32px;height:36px" viewBox="216 958 32 36">
<path d="M225 972 L225 969 A7 7 0 0 1 239 969 L239 972" fill="none" stroke="#9ca3af" stroke-width="3.7"/>
<rect x="218" y="972" width="28" height="20" rx="3.5" fill="#9ca3af"/>
</svg>
<div class="c d" style="left:640px;top:1040px"></div><svg class="ic" style="left:696px;top:1070px;width:32px;height:36px" viewBox="216 958 32 36">
<path d="M225 972 L225 969 A7 7 0 0 1 239 969 L239 972" fill="none" stroke="#9ca3af" stroke-width="3.7"/>
<rect x="218" y="972" width="28" height="20" rx="3.5" fill="#9ca3af"/>
</svg>
<div class="c d" style="left:800px;top:1040px"></div><svg class="ic" style="left:856px;top:1060px;width:32px;height:56px" viewBox="376 500 32 56">
<g fill="#9ca3af" stroke="#9ca3af" stroke-linecap="round" stroke-linejoin="round">
<circle cx="386.5" cy="514.2" r="3.7" stroke="none"/>
<path d="M380.6 505.6 L383 502.6 L405.3 517.1" fill="none" stroke-width="1.8"/>
<path d="M387 521 L405.2 518.2" fill="none" stroke-width="4.2"/>
<path d="M385.2 520.2 L393.6 519.6 L398.6 536.5 L390.2 535.2 Z" stroke-width="1"/>
<path d="M391.2 535 L380.6 551.3" fill="none" stroke-width="4.6"/>
<path d="M396.2 536 L394.6 551.6" fill="none" stroke-width="4.6"/>
</g></svg>
<div class="c p" style="left:960px;top:1040px"><span class="fr">Fr.</span><span class="pr">$12</span></div>
<div class="c p" style="left:1120px;top:1040px"><span class="fr">Fr.</span><span class="pr">$12</span></div>
<div class="c p" style="left:1280px;top:1040px"><span class="fr">Fr.</span><span class="pr">$12</span></div>
<div class="c p" style="left:1440px;top:1040px"><span class="fr">Fr.</span><span class="pr">$12</span></div>
<div class="c p" style="left:1600px;top:1040px"><span class="fr">Fr.</span><span class="pr">$12</span></div>
<div class="c p" style="left:1760px;top:1040px"><span class="fr">Fr.</span><span class="pr">$12</span></div>
<div class="c p" style="left:1920px;top:1040px"><span class="fr">Fr.</span><span class="pr">$12</span></div>
<div class="c p" style="left:2080px;top:1040px"><span class="fr">Fr.</span><span class="pr">$12</span></div>
<div class="c p" style="left:2240px;top:1040px"><span class="fr">Fr.</span><span class="pr">$12</span></div>
<div class="c p f" style="left:2400px;top:1040px"><span class="fr">Fr.</span><span class="pr">$12</span></div>
<div class="tm" style="top:1152px">12:00</div>
<div class="c p" style="left:160px;top:1152px"><span class="fr">Fr.</span><span class="pr">$12</span></div>
<div class="c p" style="left:320px;top:1152px"><span class="fr">Fr.</span><span class="pr">$12</span></div>
<div class="c p" style="left:480px;top:1152px"><span class="fr">Fr.</span><span class="pr">$12</span></div>
<div class="c p" style="left:640px;top:1152px"><span class="fr">Fr.</span><span class="pr">$12</span></div>
<div class="c p" style="left:800px;top:1152px"><span class="fr">Fr.</span><span class="pr">$12</span></div>
<div class="c d" style="left:960px;top:1152px"></div><svg class="ic" style="left:1016px;top:1172px;width:32px;height:56px" viewBox="376 500 32 56">
<g fill="#9ca3af" stroke="#9ca3af" stroke-linecap="round" stroke-linejoin="round">
<circle cx="386.5" cy="514.2" r="3.7" stroke="none"/>
<path d="M380.6 505.6 L383 502.6 L405.3 517.1" fill="none" stroke-width="1.8"/>
<path d="M387 521 L405.2 518.2" fill="none" stroke-width="4.2"/>
<path d="M385.2 520.2 L393.6 519.6 L398.6 536.5 L390.2 535.2 Z" stroke-width="1"/>
<path d="M391.2 535 L380.6 551.3" fill="none" stroke-width="4.6"/>
<path d="M396.2 536 L394.6 551.6" fill="none" stroke-width="4.6"/>
</g></svg>
<div class="c p" style="left:1120px;top:1152px"><span class="fr">Fr.</span><span class="pr">$12</span></div>
<div class="c p" style="left:1280px;top:1152px"><span class="fr">Fr.</span><span class="pr">$12</span></div>
<div class="c p" style="left:1440px;top:1152px"><span class="fr">Fr.</span><span class="pr">$12</span></div>
<div class="c p" style="left:1600px;top:1152px"><span class="fr">Fr.</span><span class="pr">$12</span></div>
<div class="c p" style="left:1760px;top:1152px"><span class="fr">Fr.</span><span class="pr">$12</span></div>
<div class="c p" style="left:1920px;top:1152px"><span class="fr">Fr.</span><span class="pr">$12</span></div>
<div class="c p" style="left:2080px;top:1152px"><span class="fr">Fr.</span><span class="pr">$12</span></div>
<div class="c p" style="left:2240px;top:1152px"><span class="fr">Fr.</span><span class="pr">$12</span></div>
<div class="c p f" style="left:2400px;top:1152px"><span class="fr">Fr.</span><span class="pr">$12</span></div>
<div class="tm" style="top:1264px">12:15</div>
<div class="c d" style="left:160px;top:1264px"></div><svg class="ic" style="left:216px;top:1284px;width:32px;height:56px" viewBox="376 500 32 56">
<g fill="#9ca3af" stroke="#9ca3af" stroke-linecap="round" stroke-linejoin="round">
<circle cx="386.5" cy="514.2" r="3.7" stroke="none"/>
<path d="M380.6 505.6 L383 502.6 L405.3 517.1" fill="none" stroke-width="1.8"/>
<path d="M387 521 L405.2 518.2" fill="none" stroke-width="4.2"/>
<path d="M385.2 520.2 L393.6 519.6 L398.6 536.5 L390.2 535.2 Z" stroke-width="1"/>
<path d="M391.2 535 L380.6 551.3" fill="none" stroke-width="4.6"/>
<path d="M396.2 536 L394.6 551.6" fill="none" stroke-width="4.6"/>
</g></svg>
<div class="c d" style="left:320px;top:1264px"></div><svg class="ic" style="left:376px;top:1284px;width:32px;height:56px" viewBox="376 500 32 56">
<g fill="#9ca3af" stroke="#9ca3af" stroke-linecap="round" stroke-linejoin="round">
<circle cx="386.5" cy="514.2" r="3.7" stroke="none"/>
<path d="M380.6 505.6 L383 502.6 L405.3 517.1" fill="none" stroke-width="1.8"/>
<path d="M387 521 L405.2 518.2" fill="none" stroke-width="4.2"/>
<path d="M385.2 520.2 L393.6 519.6 L398.6 536.5 L390.2 535.2 Z" stroke-width="1"/>
<path d="M391.2 535 L380.6 551.3" fill="none" stroke-width="4.6"/>
<path d="M396.2 536 L394.6 551.6" fill="none" stroke-width="4.6"/>
</g></svg>
<div class="c p" style="left:480px;top:1264px"><span class="fr">Fr.</span><span class="pr">$12</span></div>
<div class="c p" style="left:640px;top:1264px"><span class="fr">Fr.</span><span class="pr">$12</span></div>
<div class="c p" style="left:800px;top:1264px"><span class="fr">Fr.</span><span class="pr">$12</span></div>
<div class="c p" style="left:960px;top:1264px"><span class="fr">Fr.</span><span class="pr">$12</span></div>
<div class="c p" style="left:1120px;top:1264px"><span class="fr">Fr.</span><span class="pr">$12</span></div>
<div class="c p" style="left:1280px;top:1264px"><span class="fr">Fr.</span><span class="pr">$12</span></div>
<div class="c p" style="left:1440px;top:1264px"><span class="fr">Fr.</span><span class="pr">$12</span></div>
<div class="c p" style="left:1600px;top:1264px"><span class="fr">Fr.</span><span class="pr">$12</span></div>
<div class="c p" style="left:1760px;top:1264px"><span class="fr">Fr.</span><span class="pr">$12</span></div>
<div class="c p" style="left:1920px;top:1264px"><span class="fr">Fr.</span><span class="pr">$12</span></div>
<div class="c p" style="left:2080px;top:1264px"><span class="fr">Fr.</span><span class="pr">$12</span></div>
<div class="c p" style="left:2240px;top:1264px"><span class="fr">Fr.</span><span class="pr">$12</span></div>
<div class="c p f" style="left:2400px;top:1264px"><span class="fr">Fr.</span><span class="pr">$12</span></div>
<div class="tm" style="top:1376px">12:30</div>
<div class="c p" style="left:160px;top:1376px"><span class="fr">Fr.</span><span class="pr">$12</span></div>
<div class="c p" style="left:320px;top:1376px"><span class="fr">Fr.</span><span class="pr">$12</span></div>
<div class="c p" style="left:480px;top:1376px"><span class="fr">Fr.</span><span class="pr">$12</span></div>
<div class="c p" style="left:640px;top:1376px"><span class="fr">Fr.</span><span class="pr">$12</span></div>
<div class="c p" style="left:800px;top:1376px"><span class="fr">Fr.</span><span class="pr">$12</span></div>
<div class="c p" style="left:960px;top:1376px"><span class="fr">Fr.</span><span class="pr">$12</span></div>
<div class="c p" style="left:1120px;top:1376px"><span class="fr">Fr.</span><span class="pr">$12</span></div>
<div class="c p" style="left:1280px;top:1376px"><span class="fr">Fr.</span><span class="pr">$12</span></div>
<div class="c p" style="left:1440px;top:1376px"><span class="fr">Fr.</span><span class="pr">$12</span></div>
<div class="c p" style="left:1600px;top:1376px"><span class="fr">Fr.</span><span class="pr">$12</span></div>
<div class="c p" style="left:1760px;top:1376px"><span class="fr">Fr.</span><span class="pr">$12</span></div>
<div class="c p" style="left:1920px;top:1376px"><span class="fr">Fr.</span><span class="pr">$12</span></div>
<div class="c p" style="left:2080px;top:1376px"><span class="fr">Fr.</span><span class="pr">$12</span></div>
<div class="c p" style="left:2240px;top:1376px"><span class="fr">Fr.</span><span class="pr">$12</span></div>
<div class="c p f" style="left:2400px;top:1376px"><span class="fr">Fr.</span><span class="pr">$12</span></div>
<div class="abs" style="left:0;top:1428px;width:2560px;height:196px;background:#fff;box-shadow:0 -4px 36px rgba(90,40,20,0.07)"></div>
<div class="card" style="left:32px"><div class="b">Bay 2</div><div class="r">10:15 - 10:30</div></div>
<svg class="ic" style="left:57px;top:1505px;width:46px;height:43px" viewBox="0 -0.7 44 41">
<path d="M1.5 5.1 Q21.5 -2.5 42.2 4.8 Q38 26 21.5 38.6 Q5 26 1.5 5.1 Z" fill="#fff" stroke="#17529a" stroke-width="2.6" stroke-linejoin="round"/>
<g fill="#17529a">
<rect x="20.6" y="5.4" width="1.5" height="12"/>
<path d="M21.1 5.3 L27.6 7 L21.1 8.9 Z"/>
<path d="M3.2 15.2 L11 16.3 L12.4 18.5 L8.6 19.9 L5.4 21 Z"/>
<path d="M6.8 21.3 L14.5 19.6 L22.3 22 L24 27.6 L17.5 27 L10.5 24.6 Z"/>
<path d="M24.2 22.7 L36 21.2 L31.8 28.2 L26.2 27.8 Z"/>
<path d="M29.4 19 L36 20.6 L35.2 22 L28.8 20.6 Z"/>
<ellipse cx="26.2" cy="19.4" rx="2.5" ry="1.2"/>
</g>
<g fill="none" stroke="#17529a" stroke-width="1.3">
<ellipse cx="21.3" cy="18" rx="5.4" ry="2.1" transform="rotate(12 21.3 18)"/>
<path d="M8.6 14.6 L13.6 14.1 M15.3 14 L18 14.4"/>
</g>
</svg>
<div class="abs" style="left:88.5px;top:1542.5px;width:3px;height:3px;border-radius:50%;background:#8fa9cf"></div>
<div class="card" style="left:338px"><div class="b">Bay 3</div><div class="r">10:15 - 10:30</div></div>
<svg class="ic" style="left:363px;top:1505px;width:46px;height:43px" viewBox="0 -0.7 44 41">
<path d="M1.5 5.1 Q21.5 -2.5 42.2 4.8 Q38 26 21.5 38.6 Q5 26 1.5 5.1 Z" fill="#fff" stroke="#17529a" stroke-width="2.6" stroke-linejoin="round"/>
<g fill="#17529a">
<rect x="20.6" y="5.4" width="1.5" height="12"/>
<path d="M21.1 5.3 L27.6 7 L21.1 8.9 Z"/>
<path d="M3.2 15.2 L11 16.3 L12.4 18.5 L8.6 19.9 L5.4 21 Z"/>
<path d="M6.8 21.3 L14.5 19.6 L22.3 22 L24 27.6 L17.5 27 L10.5 24.6 Z"/>
<path d="M24.2 22.7 L36 21.2 L31.8 28.2 L26.2 27.8 Z"/>
<path d="M29.4 19 L36 20.6 L35.2 22 L28.8 20.6 Z"/>
<ellipse cx="26.2" cy="19.4" rx="2.5" ry="1.2"/>
</g>
<g fill="none" stroke="#17529a" stroke-width="1.3">
<ellipse cx="21.3" cy="18" rx="5.4" ry="2.1" transform="rotate(12 21.3 18)"/>
<path d="M8.6 14.6 L13.6 14.1 M15.3 14 L18 14.4"/>
</g>
</svg>
<div class="abs" style="left:394.5px;top:1542.5px;width:3px;height:3px;border-radius:50%;background:#8fa9cf"></div>
<div class="card" style="left:644px"><div class="b">Bay 4</div><div class="r">10:15 - 10:30</div></div>
<svg class="ic" style="left:664px;top:1502px;width:56px;height:48px" viewBox="664 1502 56 48">
<g fill="#141414">
<circle cx="684" cy="1509.9" r="3"/>
<path d="M681.5 1513.4 L683.2 1513.6 L684.6 1525.8 L682.4 1526.2 L680.6 1519.8 L679 1523.6 L681.6 1536.2 L679.8 1537.2 L678.3 1538.6 L676.5 1538.6 L676 1522.4 Z"/>
</g>
<g fill="none" stroke="#141414" stroke-linejoin="round" stroke-linecap="round">
<path d="M683.8 1526.2 L694 1538.1 L696.4 1538.2" stroke-width="1.5"/>
<path d="M672.4 1535.5 L669.4 1543.8 L714.8 1543.8 L708.6 1529.4 L693.3 1529.4" stroke-width="2.6"/>
</g></svg>
<div class="t" style="right:683px;top:1484px;font-size:32px;font-weight:400;-webkit-text-stroke:1.4px #0a0a0a;color:#0a0a0a;letter-spacing:-0.1px">Base price <span class="strike" style="color:#6b7280;-webkit-text-stroke:1.4px #6b7280">$ 36.00</span></div>
<div class="t" style="right:683px;top:1536px;font-size:32px;font-weight:400;-webkit-text-stroke:1.4px #0a0a0a;color:#0a0a0a;letter-spacing:0.1px">Your price $ 9.00</div>
<div class="abs" style="left:1930px;top:1478px;width:176px;height:96px;border:4px solid #6b7280;border-radius:16px;display:flex;align-items:center;justify-content:center;font-size:36px;font-weight:700;color:#1a1a1a;line-height:1;letter-spacing:-1.6px">Cancel</div>
<div class="abs" style="left:2138px;top:1478px;width:390px;height:96px;background:#191919;border-radius:18px;display:flex;align-items:center;justify-content:center;font-size:36px;font-weight:700;color:#fff;line-height:1;letter-spacing:-1.1px">Proceed with 3 bays</div>
</body></html>
